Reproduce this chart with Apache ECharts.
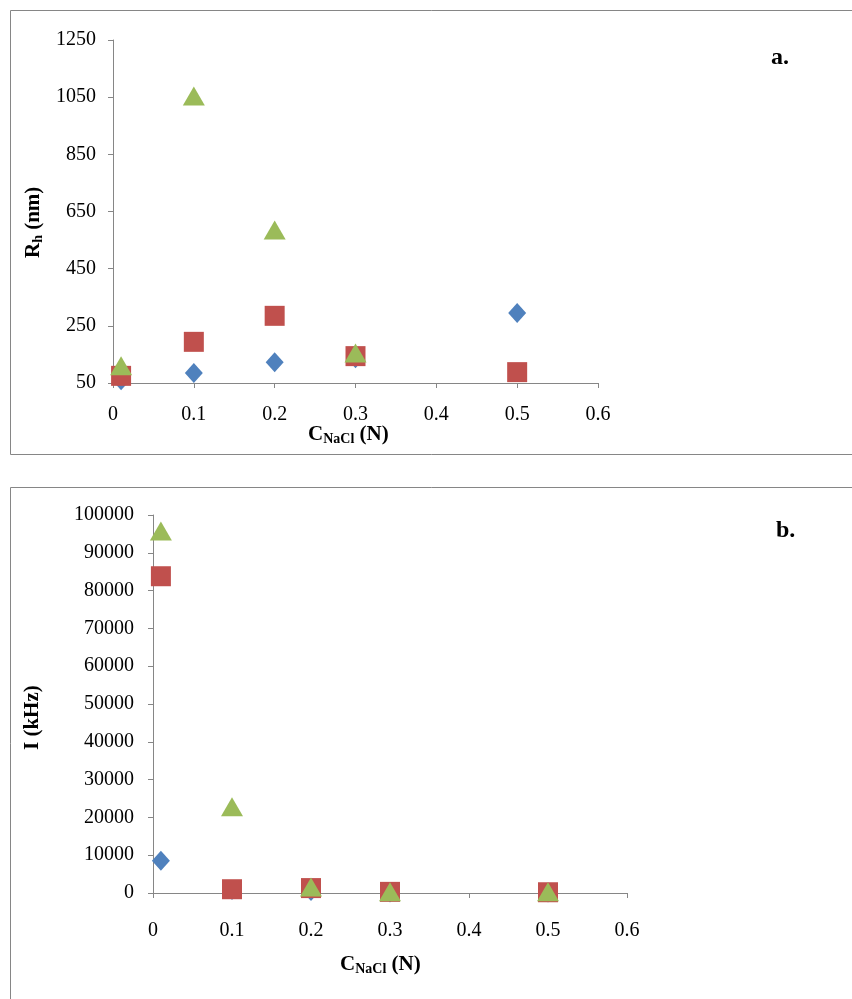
<!DOCTYPE html>
<html>
<head>
<meta charset="utf-8" />
<style>
body { margin: 0; background: #fff; }
#main { width: 852px; height: 999px; }
</style>
<script src="https://cdn.jsdelivr.net/npm/echarts@6/dist/echarts.min.js"></script>
</head>
<body>
<div id="main"></div>
<script>
// panel a: hydrodynamic radius (nm)
const rhBlue = [[0.01, 60], [0.1, 85], [0.2, 123], [0.3, 137], [0.5, 295]];
const rhRed = [[0.01, 75], [0.1, 194], [0.2, 285], [0.3, 144], [0.5, 88]];
const rhGreen = [[0.01, 110], [0.1, 1054], [0.2, 585], [0.3, 155]];
// panel b: intensity (kHz)
const iBlue = [[0.01, 8500], [0.1, 800], [0.2, 500], [0.3, 100], [0.5, 100]];
const iRed = [[0.01, 83800], [0.1, 1000], [0.2, 1300], [0.3, 300], [0.5, 200]];
const iGreen = [[0.01, 95800], [0.1, 22800], [0.2, 1600], [0.3, 300], [0.5, 300]];

const font = '"Liberation Serif", "Times New Roman", serif';
const lbl = { color: '#000', fontFamily: font, fontSize: 20 };
const line = { show: true, lineStyle: { color: '#868686' } };
const tick = { show: true, inside: false, length: 5, lineStyle: { color: '#868686' } };

function xAx(i, m) {
  return { gridIndex: i, type: 'value', min: 0, max: 0.6, interval: 0.1,
    axisLine: line, axisTick: tick, splitLine: { show: false },
    axisLabel: Object.assign({ margin: m, formatter: v => String(+v.toFixed(1)) }, lbl) };
}
function yAx(i, min, max, step, m) {
  return { gridIndex: i, type: 'value', min: min, max: max, interval: step,
    axisLine: line, axisTick: tick, splitLine: { show: false },
    axisLabel: Object.assign({ margin: m, formatter: v => String(v) }, lbl) };
}
function sc(name, data, sym, color, xi, size) {
  return { name: name, type: 'scatter', xAxisIndex: xi, yAxisIndex: xi, data: data,
    symbol: sym, symbolSize: size, itemStyle: { color: color, opacity: 1 }, animation: false };
}
const blue = '#4F81BD', red = '#C0504D', green = '#9BBB59';
const main = { fontSize: 21, fontFamily: font, fontWeight: 'bold', fill: '#000' };
const sub = { fontSize: 14, fontFamily: font, fontWeight: 'bold', fill: '#000', padding: [9, 0, 0, 0] };

const chart = echarts.init(document.getElementById('main'));
chart.setOption({
  grid: [
    { left: 113, top: 40, right: 254, bottom: 616 },
    { left: 153, top: 515, right: 225, bottom: 106 }
  ],
  xAxis: [xAx(0, 22), xAx(1, 28)],
  yAxis: [yAx(0, 50, 1250, 200, 17), yAx(1, 0, 100000, 10000, 19)],
  series: [
    sc('blue', rhBlue, 'diamond', blue, 0, [18, 20]),
    sc('red', rhRed, 'rect', red, 0, 20),
    sc('green', rhGreen, 'triangle', green, 0, [22, 19]),
    sc('blue', iBlue, 'diamond', blue, 1, [18, 20]),
    sc('red', iRed, 'rect', red, 1, 20),
    sc('green', iGreen, 'triangle', green, 1, [22, 19])
  ],
  graphic: [
    { type: 'rect', shape: { x: 10.5, y: 10.5, width: 850, height: 444 }, style: { fill: 'none', stroke: '#868686' } },
    { type: 'rect', shape: { x: 10.5, y: 487.5, width: 850, height: 520 }, style: { fill: 'none', stroke: '#868686' } },
    { type: 'text', left: 771, top: 46, style: { text: 'a.', fontSize: 24, fontFamily: font, fontWeight: 'bold', fill: '#000' } },
    { type: 'text', left: 776, top: 519, style: { text: 'b.', fontSize: 24, fontFamily: font, fontWeight: 'bold', fill: '#000' } },
    { type: 'text', left: 308, top: 424, style: { text: '{m|C}{s|NaCl}{m| (N)}', rich: { m: main, s: sub } } },
    { type: 'text', left: 340, top: 954, style: { text: '{m|C}{s|NaCl}{m| (N)}', rich: { m: main, s: sub } } },
    { type: 'text', x: 22, y: 258, rotation: Math.PI / 2, style: { text: '{m|R}{s|h}{m| (nm)}', rich: { m: main, s: sub } } },
    { type: 'text', x: 22, y: 750, rotation: Math.PI / 2, style: { text: 'I (kHz)', fontSize: 21, fontFamily: font, fontWeight: 'bold', fill: '#000' } }
  ]
});
</script>
</body>
</html>
